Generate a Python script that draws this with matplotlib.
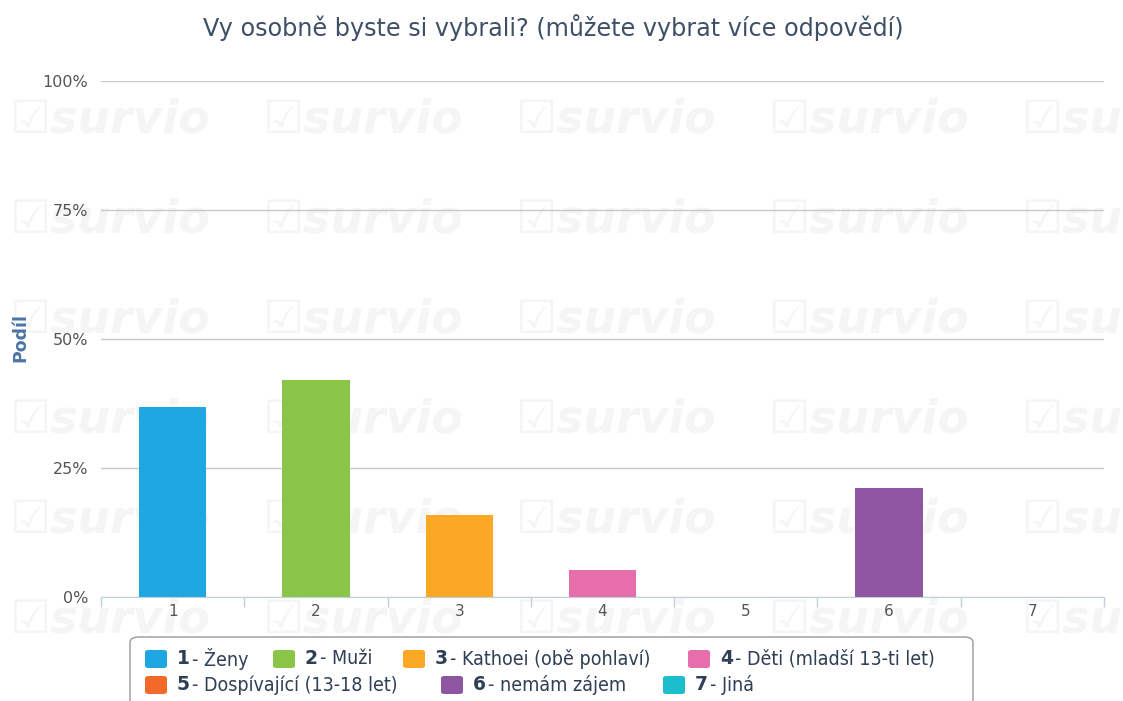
import numpy as np
import matplotlib.pyplot as plt
from matplotlib.patches import FancyBboxPatch

plt.rcParams['font.family'] = ['DejaVu Sans']

# data (share of respondents, %)
kategorie = ['1', '2', '3', '4', '5', '6', '7']
popisky = ['Ženy', 'Muži', 'Kathoei (obě pohlaví)', 'Děti (mladší 13-ti let)',
           'Dospívající (13-18 let)', 'nemám zájem', 'Jiná']
podil = [36.8, 42.1, 15.8, 5.3, 0.0, 21.1, 0.0]
barvy = ['#1ea7e1', '#8bc548', '#fba825', '#e66eaa', '#f26a2a', '#8e56a1', '#1cbdcd']
y_ticks = [0, 25, 50, 75, 100]

W, H = 1123, 701
fig = plt.figure(figsize=(W / 100, H / 100), dpi=100)

# watermark
for ry in range(120, 701, 100):
    for rx in range(10, W - 100, 253):
        fig.text(rx / W, 1 - ry / H, '☑survio', fontsize=33, fontweight='bold',
                 style='italic', color='#f5f5f5', va='center', ha='left', zorder=-5)

ax = fig.add_axes([101 / W, 1 - 597 / H, (1104 - 101) / W, (597 - 81) / H])
ax.set_facecolor('none')
x = np.arange(len(kategorie))
ax.bar(x, podil, width=0.47, color=barvy, zorder=3)

ax.set_xlim(-0.5, len(kategorie) - 0.5)
ax.set_ylim(0, 100)
ax.set_yticks(y_ticks)
ax.set_yticklabels([f'{v}%' for v in y_ticks])
ax.yaxis.grid(True, color='#c8c8c8', lw=1)
ax.set_axisbelow(True)
ax.set_xticks(x)
ax.set_xticklabels(kategorie)
ax.set_xticks(np.arange(-0.5, len(kategorie)), minor=True)
ax.tick_params(axis='x', which='major', length=0, pad=5, labelsize=11, labelcolor='#555555')
ax.tick_params(axis='x', which='minor', length=7, color='#c0d0e0', width=1)
ax.tick_params(axis='y', length=0, pad=9, labelsize=11.5, labelcolor='#555555')
for s in ['top', 'right', 'left']:
    ax.spines[s].set_visible(False)
ax.spines['bottom'].set_color('#c0d0e0')
ax.spines['bottom'].set_zorder(4)

fig.text(20 / W, 1 - 338 / H, 'Podíl', rotation=90, fontsize=12.5, fontweight='bold',
         color='#4d74a6', ha='center', va='center')
fig.text(553 / W, 1 - 28 / H, 'Vy osobně byste si vybrali? (můžete vybrat více odpovědí)',
         fontsize=17.2, color='#3e4f66', ha='center', va='center')

# legend
box = FancyBboxPatch((130 / W, 1 - 712 / H), (973 - 130) / W, (712 - 637) / H,
                     boxstyle='round,pad=0,rounding_size=0.008', transform=fig.transFigure,
                     facecolor='white', edgecolor='#999999', lw=1, zorder=1)
fig.patches.append(box)
pozice = [(145, 659), (273, 659), (403, 659), (688, 659),
          (145, 685), (441, 685), (663, 685)]
for i, (px, py) in enumerate(pozice):
    sq = FancyBboxPatch((px / W, 1 - (py + 9) / H), 22 / W, 18 / H,
                        boxstyle='round,pad=0,rounding_size=0.003', transform=fig.transFigure,
                        facecolor=barvy[i], edgecolor='none', zorder=2)
    fig.patches.append(sq)
    fig.text((px + 32) / W, 1 - py / H, kategorie[i], fontsize=13.5, fontweight='bold',
             color='#2f3f55', va='center', ha='left', zorder=3)
    fig.text((px + 47) / W, 1 - py / H, '- ' + popisky[i], fontsize=14,
             color='#2f3f55', va='center', ha='left', zorder=3, stretch='condensed')

fig.savefig('out.png', dpi=100)
